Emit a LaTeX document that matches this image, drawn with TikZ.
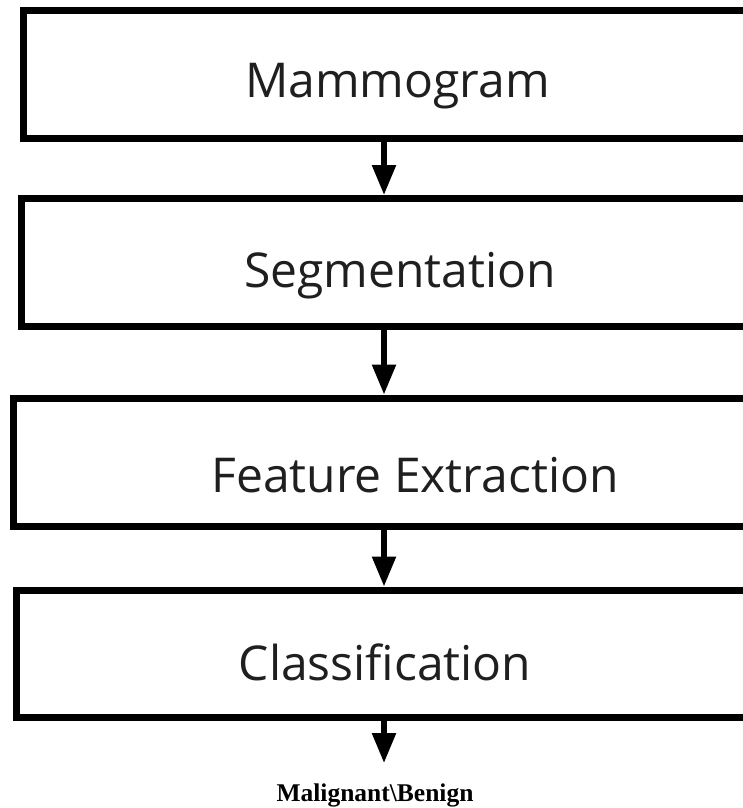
\documentclass[tikz,border=0pt]{standalone}
\usepackage{fontspec}
\setmainfont{Open Sans}
\newfontfamily\resultfont{Liberation Serif}
\usetikzlibrary{arrows.meta}
\begin{document}
\begin{tikzpicture}[x=1pt,y=-1pt,
  stage/.style={draw=black, line width=7pt, rectangle, inner sep=0pt, fill=white},
  stagetext/.style={anchor=base, inner sep=0pt, font=\fontsize{48}{58}\selectfont, text=black!88},
  flow/.style={draw=black, line width=5.5pt, -{Triangle[width=23pt,length=30pt]}},
  result/.style={anchor=base, inner sep=0pt, font=\resultfont\bfseries\fontsize{25.5}{30}\selectfont}]
  \useasboundingbox (0,0) rectangle (743,808);
  \clip (0,0) rectangle (743,808);
  % x position of the vertical connectors
  \coordinate (ax) at (384,0);

  % stage boxes (they run off the right edge)
  \node[stage, minimum width=737pt,   minimum height=127.5pt] (m) at (391.5,74.25) {};
  \node[stage, minimum width=739pt,   minimum height=127.5pt] (s) at (390.5,262.25) {};
  \node[stage, minimum width=747pt,   minimum height=128pt]   (f) at (386.5,462) {};
  \node[stage, minimum width=743.5pt, minimum height=127pt]   (c) at (388.25,653.5) {};

  % stage captions
  \node[stagetext] (mt) at (397.5,97)  {Mammogram};
  \node[stagetext] (st) at (400,287)   {Segmentation};
  \node[stagetext] (ft) at (415,492)   {Feature Extraction};
  \node[stagetext] (ct) at (385,680)   {Classification};

  % connectors
  \draw[flow] (m.south -| ax) -- (s.north -| ax);
  \draw[flow] (s.south -| ax) -- (f.north -| ax);
  \draw[flow] (f.south -| ax) -- (c.north -| ax);

  % outcome
  \node[result] (res) at (375,801) {Malignant\textbackslash Benign};
  \coordinate (out) at (384,763);
  \draw[flow] (c.south -| ax) -- (out);
\end{tikzpicture}
\end{document}
